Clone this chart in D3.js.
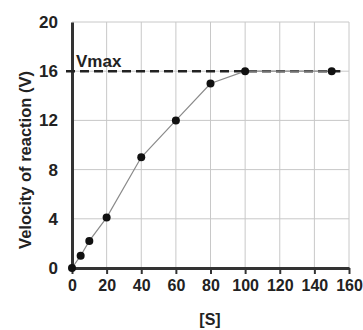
<!DOCTYPE html>
<html>
<head>
<meta charset="utf-8">
<script src="https://cdn.jsdelivr.net/npm/d3@7"></script>
<style>
  body { margin: 0; background: #fff; }
  text { font-family: "Liberation Sans", Arial, sans-serif; }
</style>
</head>
<body>
<div id="chart"></div>
<script>
var substrate = [0, 5, 10, 20, 40, 60, 80, 100, 150];
var velocity = [0, 1, 2.2, 4.1, 9, 12, 15, 16, 16];
var xTicks = [0, 20, 40, 60, 80, 100, 120, 140, 160];
var yTicks = [0, 4, 8, 12, 16, 20];
var vmax = 16;

var w = 363, h = 330;
var pLeft = 72, pRight = 349, pTop = 22, pBottom = 268;

var svg = d3.select('#chart').append('svg')
    .attr('width', w)
    .attr('height', h);

var x = d3.scaleLinear().domain([0, 160]).range([pLeft, pRight]);
var y = d3.scaleLinear().domain([0, 20]).range([pBottom, pTop]);

// grid
svg.selectAll('line.vg')
    .data(xTicks.slice(1))
    .enter().append('line')
    .attr('class', 'vg')
    .attr('x1', function(d) { return x(d); })
    .attr('x2', function(d) { return x(d); })
    .attr('y1', pTop)
    .attr('y2', pBottom)
    .attr('stroke', '#c8c8c8')
    .attr('stroke-width', 1);

svg.selectAll('line.hg')
    .data(yTicks.slice(1))
    .enter().append('line')
    .attr('class', 'hg')
    .attr('x1', pLeft)
    .attr('x2', pRight)
    .attr('y1', function(d) { return y(d); })
    .attr('y2', function(d) { return y(d); })
    .attr('stroke', '#c8c8c8')
    .attr('stroke-width', 1);

// x axis
var xAxis = svg.append('g')
    .attr('transform', 'translate(0,' + pBottom + ')')
    .call(d3.axisBottom(x).tickValues(xTicks).tickSize(6).tickSizeOuter(0).tickPadding(6));
xAxis.select('.domain').attr('stroke', '#333').attr('stroke-width', 3);
xAxis.selectAll('.tick line').attr('stroke', '#333').attr('stroke-width', 2);
xAxis.selectAll('text')
    .attr('font-size', '16px')
    .attr('font-weight', 'bold')
    .attr('fill', '#222')
    .style('font-family', '"Liberation Sans", Arial, sans-serif');

// y axis
var yAxis = svg.append('g')
    .attr('transform', 'translate(' + pLeft + ',0)')
    .call(d3.axisLeft(y).tickValues(yTicks).tickSize(0).tickSizeOuter(0).tickPadding(14));
yAxis.select('.domain').attr('stroke', '#333').attr('stroke-width', 3);
yAxis.selectAll('text')
    .attr('font-size', '17px')
    .attr('font-weight', 'bold')
    .attr('fill', '#222')
    .style('font-family', '"Liberation Sans", Arial, sans-serif');

// Vmax dashed line
svg.append('line')
    .attr('x1', x(0) - 6)
    .attr('x2', x(155))
    .attr('y1', y(vmax))
    .attr('y2', y(vmax))
    .attr('stroke', '#222')
    .attr('stroke-width', 2.5)
    .attr('stroke-dasharray', '9,5');

svg.append('text')
    .attr('x', x(0) + 4)
    .attr('y', y(vmax) - 4)
    .attr('font-size', '17px')
    .attr('font-weight', 'bold')
    .attr('fill', '#222')
    .text('Vmax');

// data line + points
var pts = substrate.map(function(d, i) { return [d, velocity[i]]; });

svg.append('path')
    .datum(pts)
    .attr('fill', 'none')
    .attr('stroke', '#8a8a8a')
    .attr('stroke-width', 1.2)
    .attr('d', d3.line()
        .x(function(d) { return x(d[0]); })
        .y(function(d) { return y(d[1]); }));

svg.selectAll('circle')
    .data(pts)
    .enter().append('circle')
    .attr('cx', function(d) { return x(d[0]); })
    .attr('cy', function(d) { return y(d[1]); })
    .attr('r', 4)
    .attr('fill', '#111');

// axis titles
svg.append('text')
    .attr('x', 210)
    .attr('y', 325)
    .attr('text-anchor', 'middle')
    .attr('font-size', '16px')
    .attr('font-weight', 'bold')
    .attr('fill', '#222')
    .text('[S]');

svg.append('text')
    .attr('transform', 'translate(31,160) rotate(-90)')
    .attr('text-anchor', 'middle')
    .attr('font-size', '16.5px')
    .attr('font-weight', 'bold')
    .attr('fill', '#222')
    .text('Velocity of reaction (V)');
</script>
</body>
</html>
